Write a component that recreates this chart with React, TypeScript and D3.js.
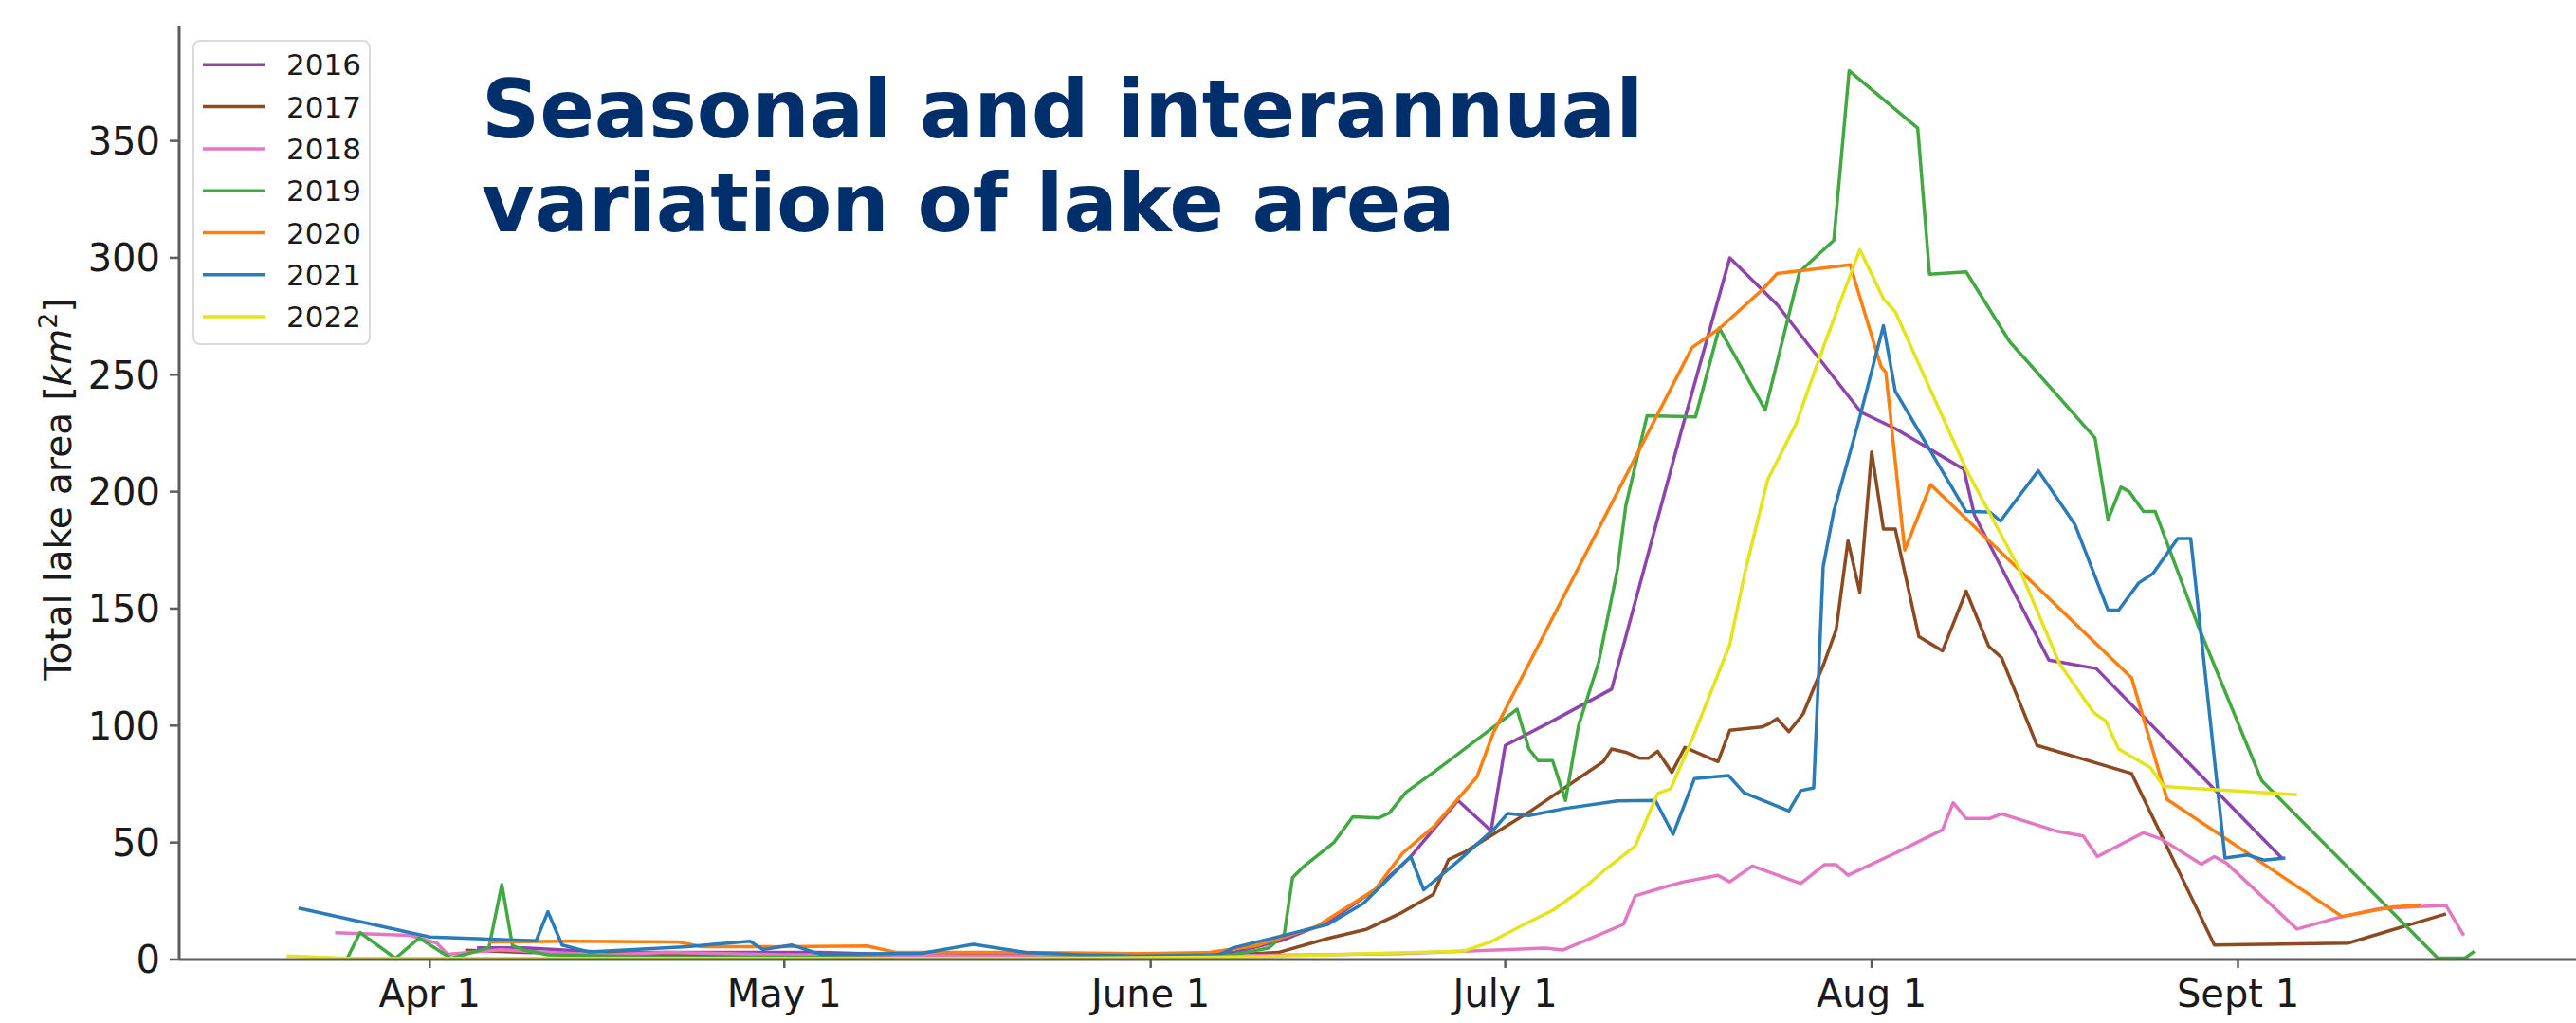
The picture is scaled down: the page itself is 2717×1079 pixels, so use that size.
import React from 'react';
import * as d3 from 'd3';

const W = 2717;
const H = 1079;

// x values: days after April 1; y values: total lake area (km²)
const s2016: [number, number][] = [[4,5],[8,5],[15,3],[25,3],[33,3],[40,2],[50,2],[60,2],[68,3],[72,8],[76,16],[80,30],[83,44],[87,68],[89.8,55],[91,91.5],[95,102],[100,115.6],[105.9,226],[110,300],[114,280],[117.7,256],[121.1,234],[124,227],[129.8,209.6],[130.7,190],[137,128],[141,124.4],[156.7,43.4]];
const s2017: [number, number][] = [[3,4],[8,3],[15,2.5],[22,2],[30,2],[40,1.5],[50,1.5],[60,1.5],[68,2],[71.8,3],[76,9],[79.3,13],[82.1,19.7],[84.9,27.8],[86.2,42.7],[87.6,46],[93,63],[99.3,84.6],[100,90],[101.2,88.6],[102.4,86],[103.1,86],[103.9,89],[105.1,80],[106.2,90.7],[109,84.6],[110,98],[112.7,99.4],[113.3,100.7],[114,103],[115,97.4],[116.2,105],[118,127],[119,141],[120,179],[121,157],[122,217],[123,184],[124,184],[126,138],[128,132],[130,157.5],[131.9,134],[133,129],[136,91.5],[144,79.5],[151,6.2],[162.3,7],[170.6,19.5]];
const s2018: [number, number][] = [[-8,11.5],[-1.7,10.3],[0.6,7],[1.5,2.2],[6,4.2],[10,3],[15,2],[20,3],[25,2.5],[30,2],[38,2],[45,1.5],[55,1.5],[65,1.5],[75,2],[82,2.5],[87.6,3.5],[94.4,4.9],[95.9,4.1],[101,15],[102,27.2],[104.5,31],[106.1,33.2],[109,36],[110,33.2],[111.9,40],[116,32.5],[118,40.5],[119,40.5],[120,36],[124.1,45.7],[128,55.5],[128.9,67],[130,60.3],[132,60.3],[133,62.3],[137.7,54.8],[139.9,52.8],[141.1,44],[145,54.2],[146.5,51.5],[149.9,40.7],[151,44],[152,41.3],[158,13],[161.3,17.7],[165,21.8],[170.6,23.1],[172.1,10.3]];
const s2019: [number, number][] = [[-7,0.3],[-5.9,11.5],[-2.9,0.5],[-0.9,9.2],[1.8,0.5],[5,5],[6.1,32],[7,6],[8,4],[10,2],[20,1],[30,1],[40,0.5],[50,0.5],[60,1],[68,2],[71,5],[72.3,10.7],[73,35],[74,40],[76.5,50],[78.1,61],[80.3,60.5],[81.2,62.7],[82.6,71.5],[85.2,81],[92,107],[93,90],[93.8,85],[95,85],[96.1,68],[97.2,100],[98.9,127],[100.5,167],[101.2,194],[103,232.5],[107.1,232],[109.1,270],[113,235],[115.9,294],[118.8,307.5],[120.1,380],[125.9,355.5],[126.9,293],[130,294],[133.7,264],[135.3,255],[140.9,223],[142,188],[143.1,202],[143.8,200],[145,191.5],[146,191.5],[149.6,143],[155,76.5],[169.9,0.6],[172.2,0.6],[173,3.5]];
const s2020: [number, number][] = [[5,7.5],[12,7.8],[21,7.5],[23,5.5],[30,5.5],[37,5.8],[39.5,3],[50,3],[60,2.5],[66,3],[70,6],[75,14],[80,30],[82.3,45.4],[85,57],[88.6,78],[90,97],[106.8,261.6],[109.1,269.7],[112.8,286.6],[114,293.3],[120.2,297],[120.6,290],[122.8,253.5],[123.2,251],[124.8,175],[127,203],[144,120.4],[147,68.4],[161.8,18.4],[166,22.4],[168.5,23.3]];
const s2021: [number, number][] = [[-11.1,22],[0,9.6],[9,8],[10,20.4],[11.2,6.2],[13.5,3.2],[21.8,5.5],[27.1,7.8],[28.2,4.2],[30.6,6.2],[33.1,2.2],[41.6,2.6],[46,6.5],[50.4,3],[55,2],[60,1.5],[66.8,2],[68,5],[72,10],[76,15],[79,24],[83,44],[84.1,29.8],[87,42],[90.1,56],[91.2,62.4],[93,61.5],[96,64.5],[100.5,67.8],[103.7,68],[105.2,53.5],[107,77.3],[109.9,78.6],[111.2,71.3],[115,63.5],[116,72.2],[117.1,73.4],[117.9,168],[118.8,191.7],[120.9,230],[123,271],[124,243],[130,191.5],[132,191.3],[132.9,187.5],[136.1,209],[139.2,186],[142,149.4],[142.9,149.4],[144.6,161],[145.8,165],[147.9,180],[149,180],[151.9,43.4],[153.8,44.7],[155.2,42.5],[157,43.4]];
const s2022: [number, number][] = [[-12.1,1.5],[-7,0.5],[0,0.5],[10,0.5],[20,0.5],[30,0.5],[40,0.5],[50,0.5],[60,0.8],[70,1.2],[76,2],[82,2.8],[87.5,3.6],[89.8,7.6],[92.6,15],[95,21],[97.5,29.9],[99.5,38.6],[102,48.5],[103.9,71],[105,73],[106.8,94],[110,134.6],[111.3,166],[113.2,205],[115.6,229],[118,263],[121,303.5],[123,282.5],[124,277],[130,209.6],[134.5,167],[137.9,126.5],[140.8,105.5],[141.8,102],[142.9,90],[145.6,82],[146.7,74],[158,70.4]];

const years = ['2016', '2017', '2018', '2019', '2020', '2021', '2022'];
const seriesList = [s2016, s2017, s2018, s2019, s2020, s2021, s2022];
const colors = ['#8e44ad', '#8c4a22', '#e377c2', '#42a842', '#ff7f0e', '#2a7bb8', '#e4e41c'];

const yTicks = [0, 50, 100, 150, 200, 250, 300, 350];
const xTickDays = [0, 30, 61, 91, 122, 153];
const xTickLabels = ['Apr 1', 'May 1', 'June 1', 'July 1', 'Aug 1', 'Sept 1'];

const titleLines = ['Seasonal and interannual', 'variation of lake area'];

export default function App() {
  const x = d3.scaleLinear().domain([-21.2, 182.4]).range([189, 2727]);
  const y = d3.scaleLinear().domain([0, 399.3]).range([1012, 27]);
  const line = d3
    .line<[number, number]>()
    .x((d) => x(d[0]))
    .y((d) => y(d[1]));

  const axisColor = '#5c5c5c';
  const font = "'DejaVu Sans', sans-serif";

  return (
    <svg
      width={W}
      height={H}
      viewBox={`0 0 ${W} ${H}`}
      style={{ position: 'absolute', left: 0, top: 0, background: '#fff' }}
      fontFamily={font}
    >
      <rect x={0} y={0} width={W} height={H} fill="#fff" />

      {/* data lines */}
      {seriesList.map((s, i) => (
        <path
          key={years[i]}
          d={line(s) || ''}
          fill="none"
          stroke={colors[i]}
          strokeWidth={3.5}
          strokeLinejoin="round"
          strokeLinecap="butt"
        />
      ))}

      {/* spines */}
      <line x1={189} y1={27} x2={189} y2={1012} stroke={axisColor} strokeWidth={3} />
      <line x1={189} y1={1012} x2={W} y2={1012} stroke={axisColor} strokeWidth={3} />

      {/* y ticks */}
      {yTicks.map((t) => (
        <g key={t}>
          <line x1={179} x2={189} y1={y(t)} y2={y(t)} stroke={axisColor} strokeWidth={2.5} />
          <text x={169} y={y(t)} dy="0.36em" textAnchor="end" fontSize={40} fill="#1a1a1a">
            {t}
          </text>
        </g>
      ))}

      {/* x ticks */}
      {xTickDays.map((t, i) => (
        <g key={t}>
          <line x1={x(t)} x2={x(t)} y1={1012} y2={1021} stroke={axisColor} strokeWidth={2.5} />
          <text x={x(t)} y={1062} textAnchor="middle" fontSize={40} fill="#1a1a1a">
            {xTickLabels[i]}
          </text>
        </g>
      ))}

      {/* y label */}
      <text
        transform="translate(75,516) rotate(-90)"
        textAnchor="middle"
        fontSize={39}
        fill="#1a1a1a"
      >
        Total lake area [<tspan fontStyle="italic">km</tspan>
        <tspan fontSize={27} dy={-15}>2</tspan>
        <tspan dy={15}>]</tspan>
      </text>

      {/* legend */}
      <rect x={204} y={43} width={186} height={320} rx={7} fill="#fff" fillOpacity={0.85} stroke="#dadada" strokeWidth={2} />
      {years.map((yr, i) => {
        const cy = 68.3 + i * 44.3;
        return (
          <g key={yr}>
            <line x1={214} x2={279} y1={cy} y2={cy} stroke={colors[i]} strokeWidth={3.5} />
            <text x={302} y={cy} dy="0.36em" fontSize={31} fill="#1a1a1a">
              {yr}
            </text>
          </g>
        );
      })}

      {/* title */}
      {titleLines.map((t, i) => (
        <text key={t} x={508} y={145 + i * 99} fontSize={85} fontWeight="bold" fill="#002f6c">
          {t}
        </text>
      ))}
    </svg>
  );
}
